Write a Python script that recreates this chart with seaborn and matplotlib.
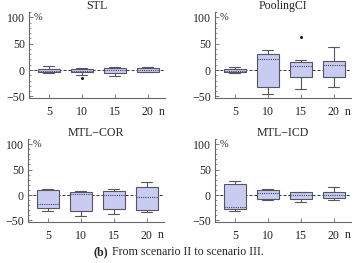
import numpy as np
import pandas as pd
import seaborn as sns
import matplotlib.pyplot as plt
from matplotlib.ticker import MultipleLocator
from matplotlib.transforms import blended_transform_factory

# sample sizes on the x axis
n_values = [5, 10, 15, 20]
panel_titles = ["STL", "PoolingCI", "MTL\u2212COR", "MTL\u2212ICD"]

# five-number summaries per box: [min, q1, median, q3, max]
stl = [[-6, -4.5, -1, 2.5, 7],
       [-9, -4, -1, 2.5, 4],
       [-12, -5, 0, 4, 6],
       [-4, -3, 0, 3, 5.5]]
pooling = [[-5, -4, -1, 2.5, 5],
           [-45, -33, 21, 31, 38],
           [-35, -14, 8, 15, 19],
           [-33, -13, 10, 17, 44]]
mtl_cor = [[-32, -26, -18, 9, 12],
           [-41, -31, 2, 6.5, 8],
           [-37, -28, 1, 8.5, 12],
           [-33, -30, -3, 15, 25]]
mtl_icd = [[-31, -28, -24, 21, 27],
           [-10, -8.5, 4, 10, 12],
           [-13, -7, 0, 5, 6],
           [-10, -6.5, 0.5, 5, 15]]
all_panels = [stl, pooling, mtl_cor, mtl_icd]

# outlying points (n, value) per panel
outliers = [([10], [-16]), ([15], [63]), ([], []), ([], [])]

sns.set_style("ticks")
plt.rcParams["font.family"] = ["Liberation Serif", "DejaVu Serif"]
fs = 8.6
plt.rcParams["font.size"] = fs

W, H = 357, 263
fig = plt.figure(figsize=(W / 100, H / 100), dpi=100)

# axes boxes in pixels: left, right, top, bottom
boxes = [(29, 165, 12, 98), (215, 351, 12, 98),
         (28, 164, 139, 222), (215, 351, 139, 222)]

fill = "#c9cbf0"
edge = "#555560"

for i, (l, r, t, b) in enumerate(boxes):
    ax = fig.add_axes([l / W, 1 - b / H, (r - l) / W, (b - t) / H])
    rows = []
    for n, summ in zip(n_values, all_panels[i]):
        for v in summ:
            rows.append((n, v))
    df = pd.DataFrame(rows, columns=["n", "v"])
    ax.axhline(0, color="#333333", lw=0.7, ls=(0, (3, 2)), zorder=0.5)
    sns.boxplot(data=df, x="n", y="v", native_scale=True, whis=(0, 100),
                width=0.68, color=fill, linecolor=edge, linewidth=0.8,
                fliersize=0, saturation=1,
                medianprops=dict(ls=(0, (1, 1)), color="#404070", lw=0.8),
                ax=ax)
    ox, oy = outliers[i]
    if ox:
        ax.scatter(ox, oy, s=1.5, color="#222222", zorder=3)

    ax.set_xlim(2, 22.6)
    ax.set_ylim(-53, 110)
    ax.set_xticks(n_values)
    ax.set_xticklabels([str(v) for v in n_values])
    ax.set_yticks([-50, 0, 50, 100])
    ax.set_yticklabels(["\u221250", "0", "50", "100"])
    ax.yaxis.set_minor_locator(MultipleLocator(10))
    ax.set_xlabel("")
    ax.set_ylabel("")
    for s in ["top", "right"]:
        ax.spines[s].set_visible(False)
    for s in ["left", "bottom"]:
        ax.spines[s].set_color("#666666")
        ax.spines[s].set_linewidth(0.8)
    ax.tick_params(axis="both", which="major", direction="in", length=3,
                   width=0.6, color="#666666", labelsize=fs, pad=3)
    ax.tick_params(axis="x", which="major", pad=6)
    ax.tick_params(axis="y", which="minor", direction="in", length=1.5,
                   width=0.5, color="#666666")
    ax.set_title(panel_titles[i], fontsize=fs, pad=0)
    tr = blended_transform_factory(ax.transAxes, ax.transData)
    ax.text(0.035, 100, "%", transform=tr, va="center", ha="left", fontsize=7.5)
    ax.text(1.0, -0.09, "n", transform=ax.transAxes, va="top", ha="right",
            fontsize=fs)

fig.text(93 / W, 1 - 252 / H, "(b)", fontweight="bold", va="center",
         ha="left", fontsize=fs)
fig.text(112 / W, 1 - 252 / H, "From scenario II to scenario III.",
         va="center", ha="left", fontsize=fs)

fig.savefig("out.png", dpi=100)
